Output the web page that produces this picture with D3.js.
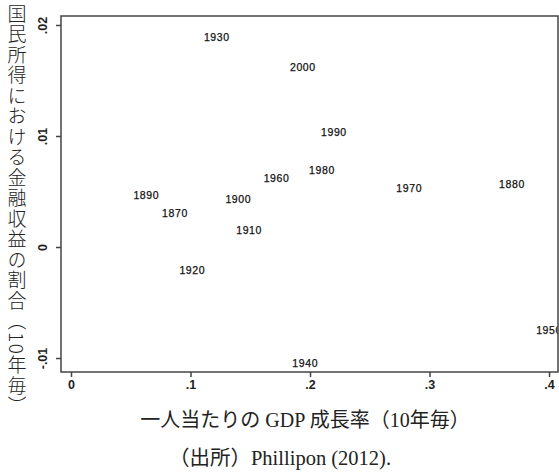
<!DOCTYPE html>
<html>
<head>
<meta charset="utf-8">
<script src="https://cdn.jsdelivr.net/npm/d3@7"></script>
<style>
  html, body { margin: 0; padding: 0; background: #fff; }
  svg { display: block; }
  .tick text { font-family: "Liberation Sans", Arial, sans-serif; font-size: 12.5px; font-weight: bold; fill: #222; }
</style>
</head>
<body>
<div id="chart"></div>
<script>
// Decade labels and their values
const decades = ['1870', '1880', '1890', '1900', '1910', '1920', '1930',
                 '1940', '1950', '1960', '1970', '1980', '1990', '2000'];
const gdpGrowth = [0.087, 0.369, 0.063, 0.140, 0.149, 0.1015, 0.122,
                   0.196, 0.400, 0.172, 0.283, 0.210, 0.220, 0.194];
const finShare = [0.0031, 0.00565, 0.0047, 0.0043, 0.0015, -0.0021, 0.0189,
                  -0.01045, -0.0075, 0.0062, 0.0053, 0.0069, 0.0104, 0.0162];

const xTicks = [0, 0.1, 0.2, 0.3, 0.4];
const xTickLabels = ['0', '.1', '.2', '.3', '.4'];
const yTicks = [0.02, 0.01, 0, -0.01];
const yTickLabels = ['.02', '.01', '0', '-.01'];

const xTitle = '一人当たりの GDP 成長率（10年毎）';
const yTitle = '国民所得における金融収益の割合（10年毎）';
const source = '（出所）Phillipon (2012).';

const W = 559, H = 475;
const plot = { left: 61, top: 16, right: 558, bottom: 372 };

const svg = d3.select('#chart').append('svg')
    .attr('width', W)
    .attr('height', H);

// Scales
const x = d3.scaleLinear()
    .domain([-0.00837, 0.4075])
    .range([plot.left, plot.right]);

const y = d3.scaleLinear()
    .domain([-0.01126, 0.02081])
    .range([plot.bottom, plot.top]);

const serif = '"Liberation Serif", "Noto Sans CJK JP", serif';
const cjk = '"Noto Sans CJK JP", "Liberation Serif", serif';
const sans = '"Liberation Sans", Arial, sans-serif';

// Clip so labels at the edge get cut by the frame, as in the original
svg.append('clipPath').attr('id', 'plot-clip')
  .append('rect')
    .attr('x', plot.left)
    .attr('y', plot.top)
    .attr('width', plot.right - plot.left)
    .attr('height', plot.bottom - plot.top);

// Decade labels used as the markers
svg.append('g')
    .attr('clip-path', 'url(#plot-clip)')
  .selectAll('text')
  .data(decades)
  .enter()
  .append('text')
    .attr('x', (d, i) => x(gdpGrowth[i]))
    .attr('y', (d, i) => y(finShare[i]))
    .attr('text-anchor', 'middle')
    .attr('dominant-baseline', 'central')
    .style('font-family', sans)
    .style('font-size', '10.5px')
    .style('letter-spacing', '0.6px')
    .style('fill', '#111')
    .style('stroke', '#111')
    .style('stroke-width', 0.25)
    .text(d => d);

// Frame
svg.append('rect')
    .attr('x', plot.left)
    .attr('y', plot.top)
    .attr('width', plot.right - plot.left)
    .attr('height', plot.bottom - plot.top)
    .attr('fill', 'none')
    .attr('stroke', '#444')
    .attr('stroke-width', 1.5);

// X axis
const xAxis = svg.append('g')
    .attr('transform', `translate(0,${plot.bottom})`)
    .call(d3.axisBottom(x)
        .tickValues(xTicks)
        .tickFormat((d, i) => xTickLabels[i])
        .tickSize(5)
        .tickPadding(3));
xAxis.select('.domain').remove();
xAxis.selectAll('line').attr('stroke', '#444').attr('stroke-width', 1.5);

// Y axis, labels turned sideways
const yAxis = svg.append('g')
    .attr('transform', `translate(${plot.left},0)`)
    .call(d3.axisLeft(y)
        .tickValues(yTicks)
        .tickFormat((d, i) => yTickLabels[i])
        .tickSize(5));
yAxis.select('.domain').remove();
yAxis.selectAll('line').attr('stroke', '#444').attr('stroke-width', 1.5);
yAxis.selectAll('text')
    .attr('x', null)
    .attr('dy', null)
    .attr('transform', 'translate(-18,0) rotate(-90)')
    .attr('text-anchor', 'middle')
    .attr('dominant-baseline', 'central');

// Y title, vertical writing
svg.append('text')
    .attr('x', 17)
    .attr('y', 4)
    .style('writing-mode', 'vertical-rl')
    .style('text-orientation', 'mixed')
    .style('font-family', cjk)
    .style('font-size', '19px')
    .style('font-weight', 300)
    .style('letter-spacing', '1.5px')
    .style('fill', '#222')
    .text(yTitle);

// X title
svg.append('text')
    .attr('x', 305)
    .attr('y', 420)
    .attr('text-anchor', 'middle')
    .attr('dominant-baseline', 'central')
    .style('font-family', serif)
    .style('font-size', '20px')
    .style('fill', '#222')
    .text(xTitle);

// Source note
svg.append('text')
    .attr('x', 280)
    .attr('y', 458)
    .attr('text-anchor', 'middle')
    .attr('dominant-baseline', 'central')
    .style('font-family', serif)
    .style('font-size', '20.5px')
    .style('fill', '#222')
    .text(source);
</script>
</body>
</html>
